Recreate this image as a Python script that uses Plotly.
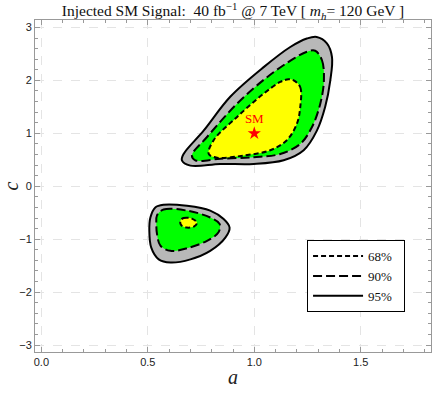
import plotly.graph_objects as go

# contour boundaries (a, c)
upper95_a = [1.293, 1.341, 1.365, 1.357, 1.333, 1.294, 1.232, 1.138, 0.997, 0.840, 0.700, 0.660, 0.668, 0.762, 0.887, 1.044, 1.169, 1.247]
upper95_c = [2.82, 2.70, 2.44, 2.00, 1.50, 1.05, 0.68, 0.49, 0.42, 0.42, 0.39, 0.49, 0.61, 1.05, 1.69, 2.25, 2.63, 2.79]
upper90_a = [1.286, 1.318, 1.327, 1.310, 1.271, 1.216, 1.122, 0.997, 0.840, 0.723, 0.707, 0.778, 0.919, 1.060, 1.185, 1.247]
upper90_c = [2.56, 2.38, 2.00, 1.56, 1.12, 0.80, 0.61, 0.55, 0.52, 0.49, 0.58, 0.93, 1.56, 2.06, 2.41, 2.54]
upper68_a = [1.185, 1.216, 1.216, 1.200, 1.153, 1.075, 0.950, 0.825, 0.786, 0.809, 0.919, 1.044, 1.122, 1.161]
upper68_c = [2.00, 1.87, 1.50, 1.18, 0.87, 0.68, 0.58, 0.54, 0.61, 0.87, 1.31, 1.75, 1.97, 2.02]

lower95_a = [0.512, 0.535, 0.574, 0.684, 0.793, 0.856, 0.884, 0.864, 0.793, 0.700, 0.606, 0.551, 0.516, 0.507]
lower95_c = [-0.59, -0.40, -0.35, -0.37, -0.46, -0.62, -0.78, -0.97, -1.22, -1.38, -1.44, -1.38, -1.16, -0.84]
lower90_a = [0.543, 0.574, 0.684, 0.793, 0.837, 0.832, 0.778, 0.684, 0.606, 0.559, 0.543, 0.540]
lower90_c = [-0.55, -0.44, -0.46, -0.59, -0.71, -0.87, -1.03, -1.17, -1.22, -1.12, -0.90, -0.71]
lower68_a = [0.653, 0.668, 0.707, 0.731, 0.716, 0.683, 0.656]
lower68_c = [-0.65, -0.60, -0.61, -0.69, -0.76, -0.78, -0.73]

sm_a = [1.0]
sm_c = [1.0]

levels = ["68%", "90%", "95%"]
fills = {"95%": "#b8b8b8", "90%": "#00ff00", "68%": "#ffff00"}
dashes = {"68%": "5px,3px", "90%": "9px,4px", "95%": "solid"}

regions = [
    ("95%", upper95_a, upper95_c), ("90%", upper90_a, upper90_c), ("68%", upper68_a, upper68_c),
    ("95%", lower95_a, lower95_c), ("90%", lower90_a, lower90_c), ("68%", lower68_a, lower68_c),
]


def closed(xs):
    return list(xs) + [xs[0]]


fig = go.Figure()

# filled bands first
for lev, xs, ys in regions:
    fig.add_trace(go.Scatter(x=closed(xs), y=closed(ys), mode="lines", fill="toself",
                             fillcolor=fills[lev], line=dict(width=0, shape="spline"),
                             showlegend=False, hoverinfo="skip"))

# contour lines on top
shown = set()
for lev, xs, ys in regions:
    fig.add_trace(go.Scatter(x=closed(xs), y=closed(ys), mode="lines",
                             name=lev + "\u00a0" * 2,
                             legendgroup=lev, showlegend=lev not in shown,
                             legendrank=levels.index(lev),
                             line=dict(color="black", width=2, dash=dashes[lev], shape="spline")))
    shown.add(lev)

fig.add_trace(go.Scatter(x=sm_a, y=sm_c, mode="markers+text", text=["SM"], textposition="top center",
                         marker=dict(symbol="star", color="red", size=10),
                         textfont=dict(family="Liberation Serif", size=13, color="red"),
                         showlegend=False))

axis_common = dict(
    showline=True, linecolor="#999999", linewidth=1, mirror="ticks",
    ticks="inside", ticklen=5, tickcolor="#999999",
    showgrid=True, gridcolor="#e4e4e4", griddash="dash", gridwidth=1,
    zeroline=False, automargin=False,
    tickfont=dict(family="Liberation Sans", size=11, color="#222222"),
)

fig.update_xaxes(range=[-0.03, 1.83], tickvals=[0, 0.5, 1.0, 1.5], ticktext=["0.0", "0.5", "1.0", "1.5"],
                 minor=dict(dtick=0.1, ticks="inside", ticklen=3, tickcolor="#999999", showgrid=False),
                 title=dict(text="<i>a</i>", font=dict(family="Liberation Serif", size=20, color="#222"), standoff=2),
                 **axis_common)
fig.update_yaxes(range=[-3.13, 3.14], dtick=1,
                 minor=dict(dtick=0.2, ticks="inside", ticklen=3, tickcolor="#999999", showgrid=False),
                 title=dict(text="<i>c</i>", font=dict(family="Liberation Serif", size=20, color="#222"), standoff=4),
                 **axis_common)

fig.update_layout(
    width=432, height=393,
    margin=dict(l=35, r=1, t=20, b=41),
    plot_bgcolor="white", paper_bgcolor="white",
    title=dict(text="Injected SM Signal:  40 fb<sup>−1</sup> @ 7 TeV [ <i>m<sub>h</sub></i>= 120 GeV ]",
               xref="paper", x=0.5, xanchor="center", y=0.972, yanchor="middle",
               font=dict(family="Liberation Serif", size=15.5, color="#111")),
    legend=dict(x=0.687, y=0.337, xanchor="left", yanchor="top", itemwidth=50,
                bgcolor="white", bordercolor="black", borderwidth=1, tracegroupgap=0,
                font=dict(family="Liberation Serif", size=13, color="#111")),
)

# drop the browser's default body margin so the figure fills the window
fig.write_html("out.html", config={"displayModeBar": False},
               post_script="document.body.style.margin = '0';")
